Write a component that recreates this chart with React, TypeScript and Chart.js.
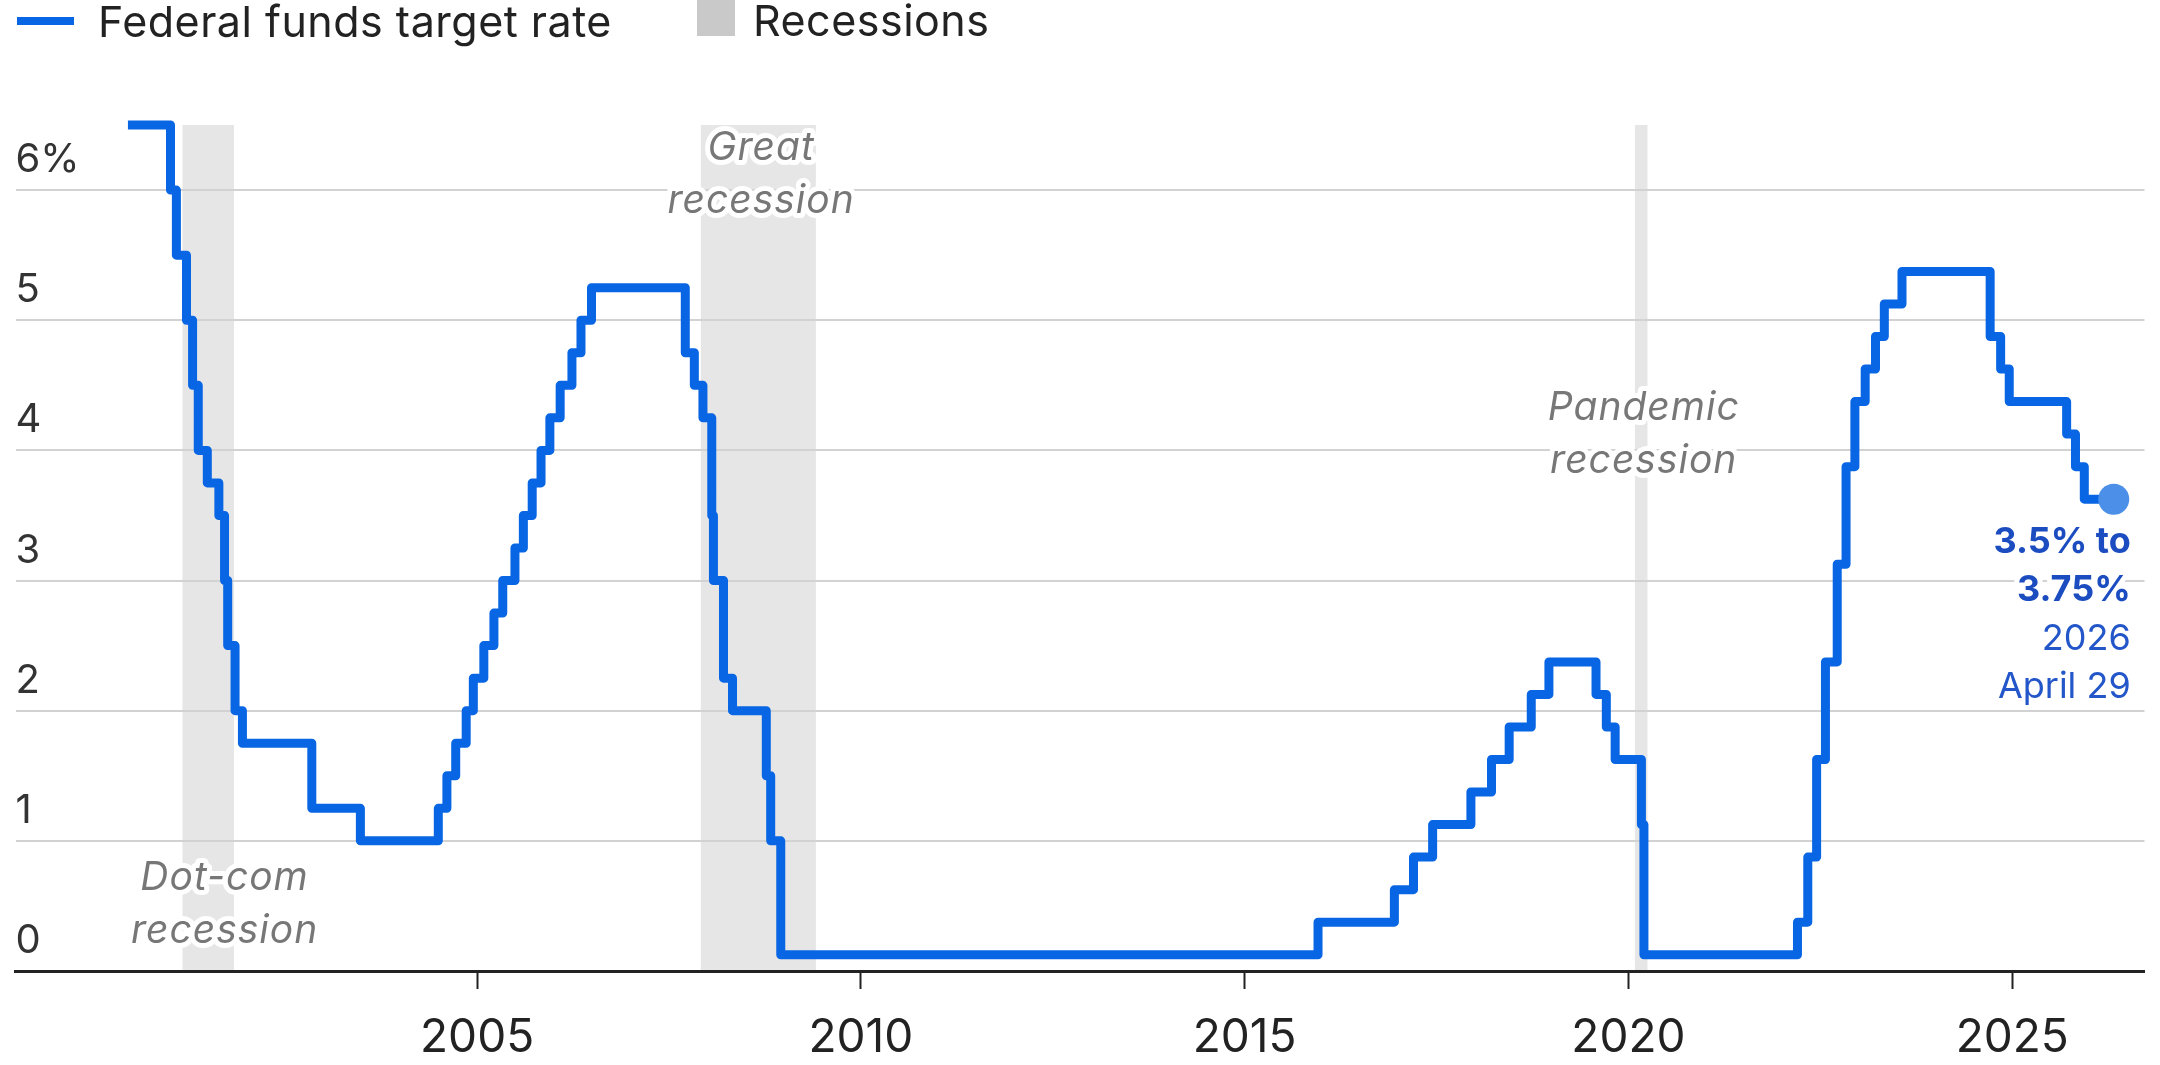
import { useEffect, useRef } from 'react';
import { Chart, registerables } from 'chart.js';

Chart.register(...registerables);

// ---- Data ----
const rateDates = [
  '2000-06-14', '2001-01-03', '2001-01-31', '2001-03-20', '2001-04-18', '2001-05-15', '2001-06-27',
  '2001-08-21', '2001-09-17', '2001-10-02', '2001-11-06', '2001-12-11', '2002-11-06', '2003-06-25',
  '2004-06-30', '2004-08-10', '2004-09-21', '2004-11-10', '2004-12-14', '2005-02-02', '2005-03-22',
  '2005-05-03', '2005-06-30', '2005-08-09', '2005-09-20', '2005-11-01', '2005-12-13', '2006-01-31',
  '2006-03-28', '2006-05-10', '2006-06-29', '2007-09-18', '2007-10-31', '2007-12-11', '2008-01-22',
  '2008-01-30', '2008-03-18', '2008-04-30', '2008-10-08', '2008-10-29', '2008-12-16', '2015-12-16',
  '2016-12-14', '2017-03-15', '2017-06-14', '2017-12-13', '2018-03-21', '2018-06-13', '2018-09-26',
  '2018-12-19', '2019-07-31', '2019-09-18', '2019-10-30', '2020-03-03', '2020-03-15', '2022-03-16',
  '2022-05-04', '2022-06-15', '2022-07-27', '2022-09-21', '2022-11-02', '2022-12-14', '2023-02-01',
  '2023-03-22', '2023-05-03', '2023-07-26', '2024-09-18', '2024-11-07', '2024-12-18', '2025-09-17',
  '2025-10-29', '2025-12-10', '2026-04-29',
];
const rateValues = [
  6.5, 6.0, 5.5, 5.0, 4.5, 4.0, 3.75,
  3.5, 3.0, 2.5, 2.0, 1.75, 1.25, 1.0,
  1.25, 1.5, 1.75, 2.0, 2.25, 2.5, 2.75,
  3.0, 3.25, 3.5, 3.75, 4.0, 4.25, 4.5,
  4.75, 5.0, 5.25, 4.75, 4.5, 4.25, 3.5,
  3.0, 2.25, 2.0, 1.5, 1.0, 0.125, 0.375,
  0.625, 0.875, 1.125, 1.375, 1.625, 1.875, 2.125,
  2.375, 2.125, 1.875, 1.625, 1.125, 0.125, 0.375,
  0.875, 1.625, 2.375, 3.125, 3.875, 4.375, 4.625,
  4.875, 5.125, 5.375, 4.875, 4.625, 4.375, 4.125,
  3.875, 3.625, 3.625,
];

const recessionStarts = ['2001-03-01', '2007-12-01', '2020-02-01'];
const recessionEnds = ['2001-11-01', '2009-06-01', '2020-04-01'];
const recessionLabels = [
  ['Dot-com', 'recession'],
  ['Great', 'recession'],
  ['Pandemic', 'recession'],
];
const recessionLabelX = [2001.71, 2008.7, 2020.2];
const recessionLabelY = [0.62, 6.23, 4.23];

const xTicks = [2005, 2010, 2015, 2020, 2025];
const yTicks = [0, 1, 2, 3, 4, 5, 6];
const endLabelLines = ['3.5% to', '3.75%', '2026', 'April 29'];
const legendLabels = ['Federal funds target rate', 'Recessions'];

// ---- Styles ----
const FONT = 'Inter';
const LINE = '#0866e4';
const DOT = '#4b8fe8';
const BAND = '#e6e6e6';
const LEGEND_BAND = '#c9c9c9';
const X_MIN = 1998.986;
const X_MAX = 2026.724;
const X_AXIS_HEIGHT = 94;

function toYear(d: string): number {
  const [y, m, day] = d.split('-').map(Number);
  const t = Date.UTC(y, m - 1, day);
  const s = Date.UTC(y, 0, 1);
  const e = Date.UTC(y + 1, 0, 1);
  return y + (t - s) / (e - s);
}

const overlayPlugin = {
  id: 'overlay',
  beforeDraw(chart: any) {
    const { ctx, chartArea, scales } = chart;
    const x = scales.x;
    ctx.save();
    ctx.fillStyle = BAND;
    for (let i = 0; i < recessionStarts.length; i++) {
      const x0 = x.getPixelForValue(toYear(recessionStarts[i]));
      const x1 = x.getPixelForValue(toYear(recessionEnds[i]));
      ctx.fillRect(x0, chartArea.top, x1 - x0, chartArea.bottom - chartArea.top);
    }
    ctx.restore();
  },
  afterDraw(chart: any) {
    const { ctx, scales } = chart;
    const x = scales.x;
    const y = scales.y;
    ctx.save();
    // recession labels
    ctx.font = `italic 39px ${FONT}`;
    (ctx as any).letterSpacing = '1px';
    ctx.textAlign = 'center';
    ctx.textBaseline = 'alphabetic';
    ctx.lineJoin = 'round';
    ctx.strokeStyle = '#ffffff';
    ctx.lineWidth = 10;
    ctx.fillStyle = '#777777';
    for (let i = 0; i < recessionLabels.length; i++) {
      const px = x.getPixelForValue(recessionLabelX[i]);
      const py = y.getPixelForValue(recessionLabelY[i]);
      recessionLabels[i].forEach((line, j) => {
        ctx.strokeText(line, px, py + j * 53);
        ctx.fillText(line, px, py + j * 53);
      });
    }
    // end annotation
    (ctx as any).letterSpacing = '0px';
    const meta = chart.getDatasetMeta(0);
    const last = meta.data[meta.data.length - 1];
    const ax = last.x + 17;
    const offsets = [54, 102, 151, 199];
    ctx.textAlign = 'right';
    endLabelLines.forEach((line, j) => {
      const bold = j < 2;
      ctx.font = `${bold ? 700 : 400} 36px ${FONT}`;
      ctx.fillStyle = bold ? '#1b4cc0' : '#2356c8';
      ctx.strokeText(line, ax, last.y + offsets[j]);
      ctx.fillText(line, ax, last.y + offsets[j]);
    });
    // legend
    ctx.textAlign = 'left';
    ctx.font = `400 43px ${FONT}`;
    (ctx as any).letterSpacing = '0.5px';
    ctx.fillStyle = LINE;
    ctx.fillRect(17, 17, 57, 8);
    ctx.fillStyle = '#222222';
    ctx.fillText(legendLabels[0], 98, 37);
    ctx.fillStyle = LEGEND_BAND;
    ctx.fillRect(697, -2, 38, 38);
    ctx.fillStyle = '#222222';
    ctx.fillText(legendLabels[1], 753, 36);
    ctx.restore();
  },
};

export default function App() {
  const ref = useRef<HTMLCanvasElement>(null);
  useEffect(() => {
    document.body.style.margin = '0';
    const canvas = ref.current;
    if (!canvas) return;
    const data = rateDates.map((d, i) => ({ x: toYear(d), y: rateValues[i] }));
    const chart = new Chart(canvas, {
      type: 'line',
      data: {
        datasets: [
          {
            label: legendLabels[0],
            data,
            borderColor: LINE,
            borderWidth: 9,
            stepped: 'before',
            borderJoinStyle: 'round',
            borderCapStyle: 'butt',
            fill: false,
            tension: 0,
            clip: false,
            pointRadius: (c: any) => (c.dataIndex === rateDates.length - 1 ? 15.5 : 0),
            pointHoverRadius: 0,
            pointBackgroundColor: DOT,
            pointBorderWidth: 0,
          } as any,
        ],
      },
      options: {
        animation: false,
        responsive: false,
        devicePixelRatio: 1,
        events: [],
        layout: { padding: { top: 125, left: 14, right: 12, bottom: 0 } },
        plugins: { legend: { display: false }, tooltip: { enabled: false } },
        scales: {
          x: {
            type: 'linear',
            min: X_MIN,
            max: X_MAX,
            afterBuildTicks: (ax: any) => {
              ax.ticks = xTicks.map((v) => ({ value: v }));
            },
            afterFit: (ax: any) => {
              ax.paddingLeft = 0;
              ax.paddingRight = 0;
              ax.height = X_AXIS_HEIGHT;
            },
            grid: { drawOnChartArea: false, drawTicks: true, tickLength: 18, tickColor: '#222222', tickWidth: 2 } as any,
            border: { display: true, color: '#222222', width: 3 },
            ticks: {
              font: { family: FONT, size: 46, lineHeight: 1.18 },
              color: '#222222',
              padding: 22,
              maxRotation: 0,
              autoSkip: false,
              callback: (v: any) => String(v),
            },
          },
          y: {
            min: 0,
            max: 6.5,
            afterBuildTicks: (ax: any) => {
              ax.ticks = yTicks.map((v) => ({ value: v }));
            },
            afterFit: (ax: any) => {
              ax.paddingTop = 0;
              ax.paddingBottom = 0;
            },
            grid: { color: '#d2d2d2', lineWidth: 2, drawTicks: false },
            border: { display: false },
            ticks: {
              mirror: true,
              padding: 0,
              labelOffset: -30,
              font: { family: FONT, size: 40 },
              color: '#333333',
              callback: (v: any) => (v === 6 ? '6%' : String(v)),
            },
          },
        },
      },
      plugins: [overlayPlugin],
    });
    return () => chart.destroy();
  }, []);
  return <canvas ref={ref} width={2160} height={1065} style={{ display: 'block', width: 2160, height: 1065 }} />;
}
